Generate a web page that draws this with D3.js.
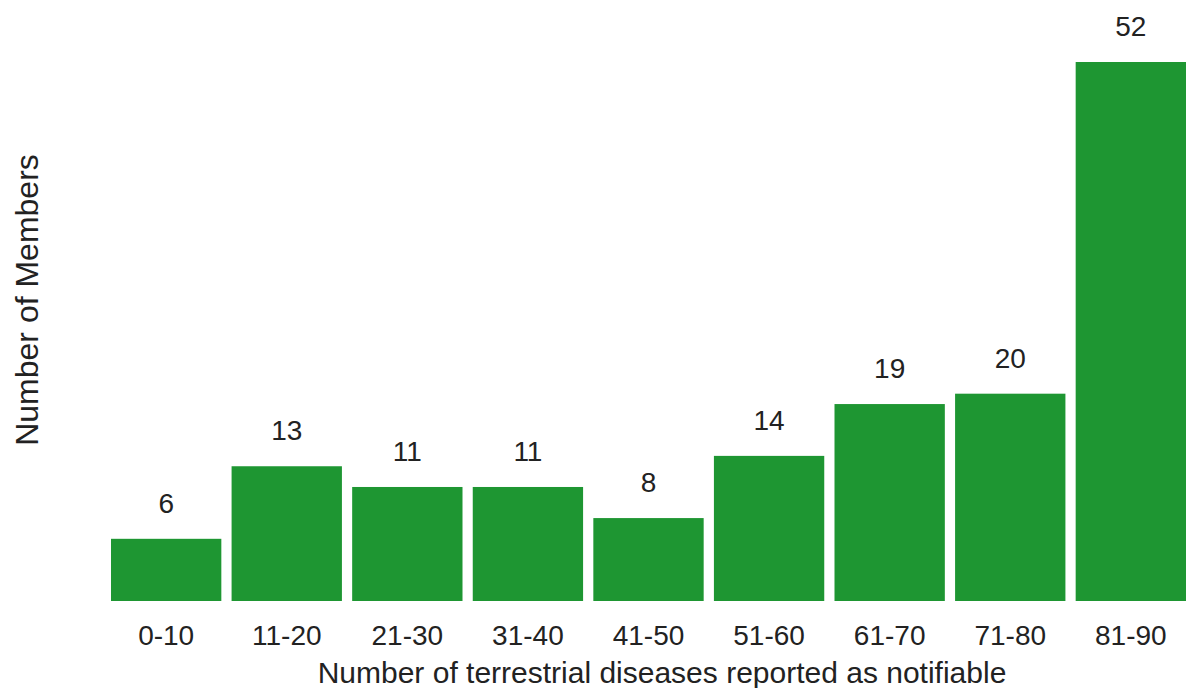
<!DOCTYPE html>
<html lang="en">
<head>
  <meta charset="utf-8">
  <title>Notifiable terrestrial diseases</title>
  <script src="https://d3js.org/d3.v7.min.js"></script>
  <style>
    body { margin: 0; background: #fff; }
    #chart text { font-family: "Liberation Sans", Arial, sans-serif; fill: #222; }
  </style>
</head>
<body>
  <div id="chart"></div>
  <script>
    // data
    var faixas = ["0-10", "11-20", "21-30", "31-40", "41-50", "51-60", "61-70", "71-80", "81-90"];
    var membros = [6, 13, 11, 11, 8, 14, 19, 20, 52];

    var largura = 1187, altura = 688;
    var svg = d3.select("#chart").append("svg")
      .attr("width", largura)
      .attr("height", altura);

    var dados = faixas.map((f, i) => ({faixa: f, valor: membros[i]}));

    var x = d3.scaleBand()
      .domain(faixas)
      .range([111, 1186])
      .paddingInner(0.085)
      .paddingOuter(0);

    var y = d3.scaleLinear()
      .domain([0, 52])
      .range([601, 62]);

    svg.selectAll("rect")
      .data(dados)
      .enter()
        .append("rect")
        .attr("x", d => x(d.faixa))
        .attr("y", d => y(d.valor))
        .attr("width", x.bandwidth())
        .attr("height", d => y(0) - y(d.valor))
        .attr("fill", "#1e9632");

    // value labels
    svg.selectAll(".rotulo")
      .data(dados)
      .enter()
        .append("text")
        .attr("class", "rotulo")
        .attr("x", d => x(d.faixa) + x.bandwidth() / 2)
        .attr("y", d => y(d.valor) - 26)
        .attr("text-anchor", "middle")
        .style("font-size", "28px")
        .text(d => d.valor);

    // x axis, no line or ticks
    var eixoX = svg.append("g")
      .attr("transform", "translate(0," + 601 + ")")
      .call(d3.axisBottom(x).tickSize(0).tickPadding(24));
    eixoX.select(".domain").remove();
    eixoX.selectAll("text")
      .style("font-size", "28px")
      .attr("fill", "#222");

    svg.append("text")
      .attr("x", 662)
      .attr("y", 683)
      .attr("text-anchor", "middle")
      .style("font-size", "30px")
      .text("Number of terrestrial diseases reported as notifiable");

    svg.append("text")
      .attr("transform", "translate(38,300) rotate(-90)")
      .attr("text-anchor", "middle")
      .style("font-size", "32px")
      .text("Number of Members");
  </script>
</body>
</html>
